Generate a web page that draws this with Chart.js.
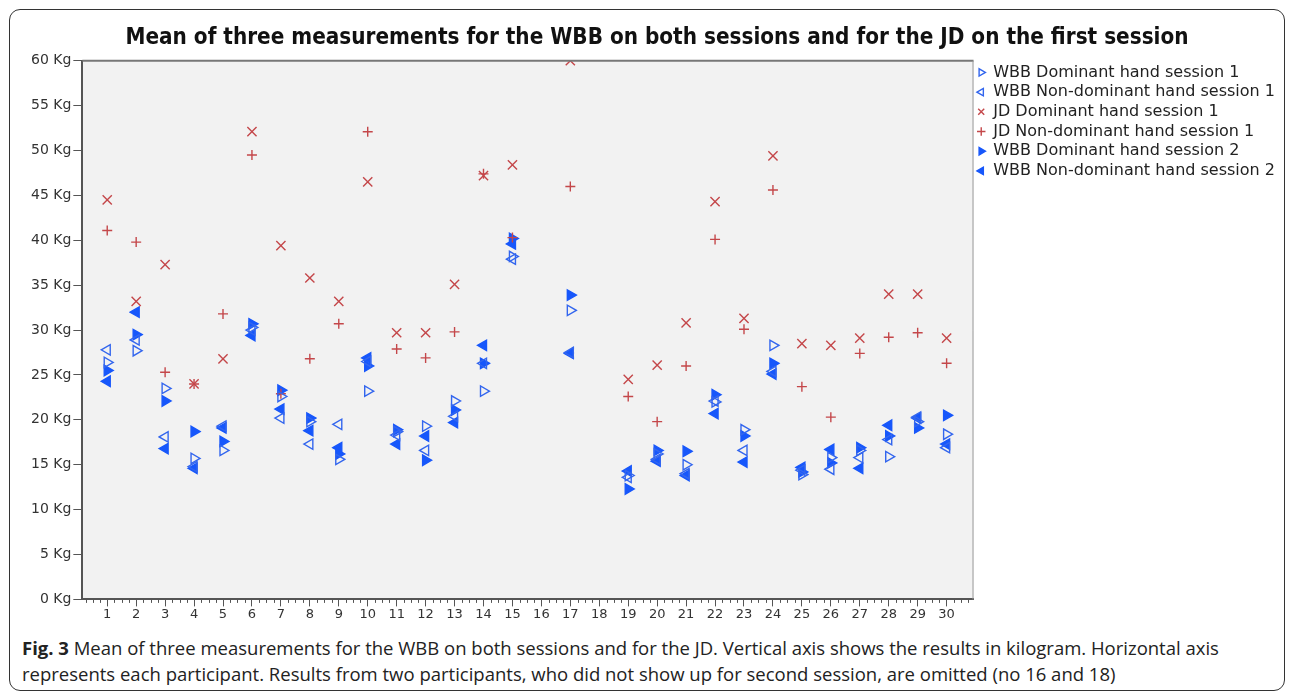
<!DOCTYPE html>
<html lang="en">
<head>
    <meta charset="UTF-8">
    <title>Mean of three measurements - WBB and JD</title>
    <script src="https://cdn.jsdelivr.net/npm/chart.js"></script>
    <style>
        body { margin: 0; background: #fff; }
        #frame {
            position: absolute; left: 9px; top: 9px; width: 1274px; height: 680px;
            border: 1.5px solid #333; border-radius: 11px;
        }
        #wrap { position: absolute; left: 10px; top: 10px; width: 1275px; height: 612px; }
        #caption {
            position: absolute; left: 22px; top: 635px; width: 1260px;
            font-family: "Open Sans", sans-serif; font-size: 18.5px; line-height: 26px; color: #222;
        }
    </style>
</head>
<body>
    <div id="frame"></div>
    <div id="wrap"><canvas id="myChart"></canvas></div>
    <div id="caption"><b>Fig. 3</b> Mean of three measurements for the WBB on both sessions and for the JD. Vertical axis shows the results in kilogram. Horizontal axis<br>represents each participant. Results from two participants, who did not show up for second session, are omitted (no 16 and 18)</div>

    <script>
        // participants (16 and 18 omitted)
        const participants = [1, 2, 3, 4, 5, 6, 7, 8, 9, 10, 11, 12, 13, 14, 15, 17, 19, 20, 21, 22, 23, 24, 25, 26, 27, 28, 29, 30];

        // values in Kg
        const wbbDomS1 = [26.4, 27.7, 23.5, 15.7, 16.6, 30.3, 22.6, 19.8, 15.6, 23.2, 18.7, 19.3, 22.1, 23.2, 38.2, 32.2, 13.8, 16.2, 15.0, 22.0, 18.9, 28.3, 13.9, 15.8, 16.6, 15.9, 19.8, 18.4];
        const wbbNonS1 = [27.8, 28.9, 18.1, 14.8, 19.3, 30.0, 20.2, 17.3, 19.5, 26.5, 18.3, 16.6, 20.4, 26.3, 37.9, 27.5, 13.6, 15.6, 14.0, 22.1, 16.6, 25.4, 14.4, 14.5, 15.8, 17.8, 20.3, 16.9];
        const jdDomS1 = [44.5, 33.2, 37.3, 24.0, 26.8, 52.1, 39.4, 35.8, 33.2, 46.5, 29.7, 29.7, 35.1, 47.2, 48.4, 60.0, 24.5, 26.1, 30.8, 44.3, 31.3, 49.4, 28.5, 28.3, 29.1, 34.0, 34.0, 29.1];
        const jdNonS1 = [41.1, 39.8, 25.3, 24.0, 31.8, 49.5, 22.9, 26.8, 30.7, 52.1, 27.9, 26.9, 29.8, 47.4, 40.3, 46.0, 22.6, 19.8, 26.0, 40.1, 30.1, 45.6, 23.7, 20.3, 27.4, 29.2, 29.7, 26.3];
        const wbbDomS2 = [25.5, 29.5, 22.1, 18.7, 17.6, 30.7, 23.3, 20.2, 16.2, 26.0, 18.9, 15.5, 21.1, 26.3, 40.2, 33.9, 12.3, 16.6, 16.5, 22.8, 18.2, 26.3, 14.2, 15.2, 16.9, 18.2, 19.1, 20.5];
        const wbbNonS2 = [24.3, 32.0, 16.8, 14.6, 19.1, 29.4, 21.2, 18.8, 16.9, 26.9, 17.3, 18.2, 19.7, 28.3, 39.6, 27.4, 14.3, 15.4, 13.8, 20.7, 15.3, 25.1, 14.7, 16.7, 14.6, 19.4, 20.2, 17.3];

        const xTicks = [];
        for (let i = 1; i <= 30; i++) xTicks.push(i);

        const blue = '#1757fb';
        const openBlue = '#3366ee';
        const red = '#c4474a';

        function pts(values) {
            return participants.map((p, i) => ({ x: p, y: values[i] }));
        }

        function series(label, values, style) {
            return Object.assign({
                label: label,
                data: pts(values),
                pointRadius: 6,
                pointHoverRadius: 6,
                pointBorderWidth: 1.4
            }, style);
        }

        const datasets = [
            series('WBB Dominant hand session 1', wbbDomS1, { pointStyle: 'triangle', rotation: 90, backgroundColor: 'rgba(0,0,0,0)', borderColor: openBlue }),
            series('WBB Non-dominant hand session 1', wbbNonS1, { pointStyle: 'triangle', rotation: -90, backgroundColor: 'rgba(0,0,0,0)', borderColor: openBlue }),
            series('JD Dominant hand session 1', jdDomS1, { pointStyle: 'crossRot', pointRadius: 6.5, backgroundColor: red, borderColor: red, clip: 0 }),
            series('JD Non-dominant hand session 1', jdNonS1, { pointStyle: 'cross', pointRadius: 5, backgroundColor: red, borderColor: red }),
            series('WBB Dominant hand session 2', wbbDomS2, { pointStyle: 'triangle', rotation: 90, backgroundColor: blue, borderColor: blue }),
            series('WBB Non-dominant hand session 2', wbbNonS2, { pointStyle: 'triangle', rotation: -90, backgroundColor: blue, borderColor: blue })
        ];

        // grey plot background, top/right frame and minor ticks on the x axis
        const plotFrame = {
            id: 'plotFrame',
            beforeDraw(chart) {
                const a = chart.chartArea, ctx = chart.ctx;
                ctx.save();
                ctx.fillStyle = '#f2f2f2';
                ctx.fillRect(a.left, a.top, a.right - a.left, a.bottom - a.top);
                ctx.restore();
            },
            afterDraw(chart) {
                const a = chart.chartArea, ctx = chart.ctx;
                ctx.save();
                ctx.strokeStyle = '#777';
                ctx.lineWidth = 2;
                ctx.beginPath();
                ctx.moveTo(a.left, a.top); ctx.lineTo(a.right, a.top);
                ctx.stroke();
                ctx.strokeStyle = '#999';
                ctx.lineWidth = 1;
                ctx.beginPath();
                ctx.moveTo(a.right - 0.5, a.top); ctx.lineTo(a.right - 0.5, a.bottom);
                ctx.stroke();
                const sx = chart.scales.x;
                ctx.strokeStyle = '#555';
                ctx.beginPath();
                for (let v = 0.25; v < sx.max; v += 0.25) {
                    if (Math.abs(v - Math.round(v)) < 0.01) continue;
                    const px = Math.round(sx.getPixelForValue(v)) + 0.5;
                    ctx.moveTo(px, a.bottom);
                    ctx.lineTo(px, a.bottom + 3.5);
                }
                ctx.stroke();
                ctx.restore();
            }
        };

        const ctx = document.getElementById('myChart').getContext('2d');
        new Chart(ctx, {
            type: 'scatter',
            data: { datasets: datasets },
            plugins: [plotFrame],
            options: {
                responsive: true,
                maintainAspectRatio: false,
                animation: false,
                layout: { padding: { left: 19, right: 0, top: 0, bottom: 0 } },
                plugins: {
                    title: {
                        display: true,
                        text: 'Mean of three measurements for the WBB on both sessions and for the JD on the first session',
                        color: '#111',
                        font: { family: "'DejaVu Sans Condensed', 'Liberation Sans Narrow', sans-serif", size: 22.3, weight: 'bold' },
                        padding: { top: 15, bottom: 9 }
                    },
                    legend: {
                        position: 'right',
                        align: 'start',
                        fullSize: false,
                        labels: {
                            usePointStyle: true,
                            boxWidth: 8,
                            boxHeight: 6,
                            padding: 3.7,
                            color: '#222',
                            font: { family: "'DejaVu Sans', sans-serif", size: 16 }
                        }
                    },
                    tooltip: { enabled: false }
                },
                scales: {
                    x: {
                        type: 'linear',
                        position: 'bottom',
                        min: 0.14,
                        max: 30.93,
                        afterBuildTicks: (scale) => { scale.ticks = xTicks.map(v => ({ value: v })); },
                        ticks: { color: '#333', padding: 0, maxRotation: 0, autoSkip: false,
                                 font: { family: "'DejaVu Sans', sans-serif", size: 13 } },
                        grid: { display: true, drawOnChartArea: false, drawTicks: true, tickLength: 7, tickColor: '#555' },
                        border: { display: true, color: '#555', width: 2 }
                    },
                    y: {
                        type: 'linear',
                        min: 0,
                        max: 60,
                        ticks: { stepSize: 5, color: '#333', padding: 2,
                                 font: { family: "'DejaVu Sans', sans-serif", size: 14 },
                                 callback: (v) => v + ' Kg' },
                        grid: { display: true, drawOnChartArea: false, drawTicks: true, tickLength: 9, tickColor: '#555' },
                        border: { display: true, color: '#555', width: 2 }
                    }
                }
            }
        });
    </script>
</body>
</html>
